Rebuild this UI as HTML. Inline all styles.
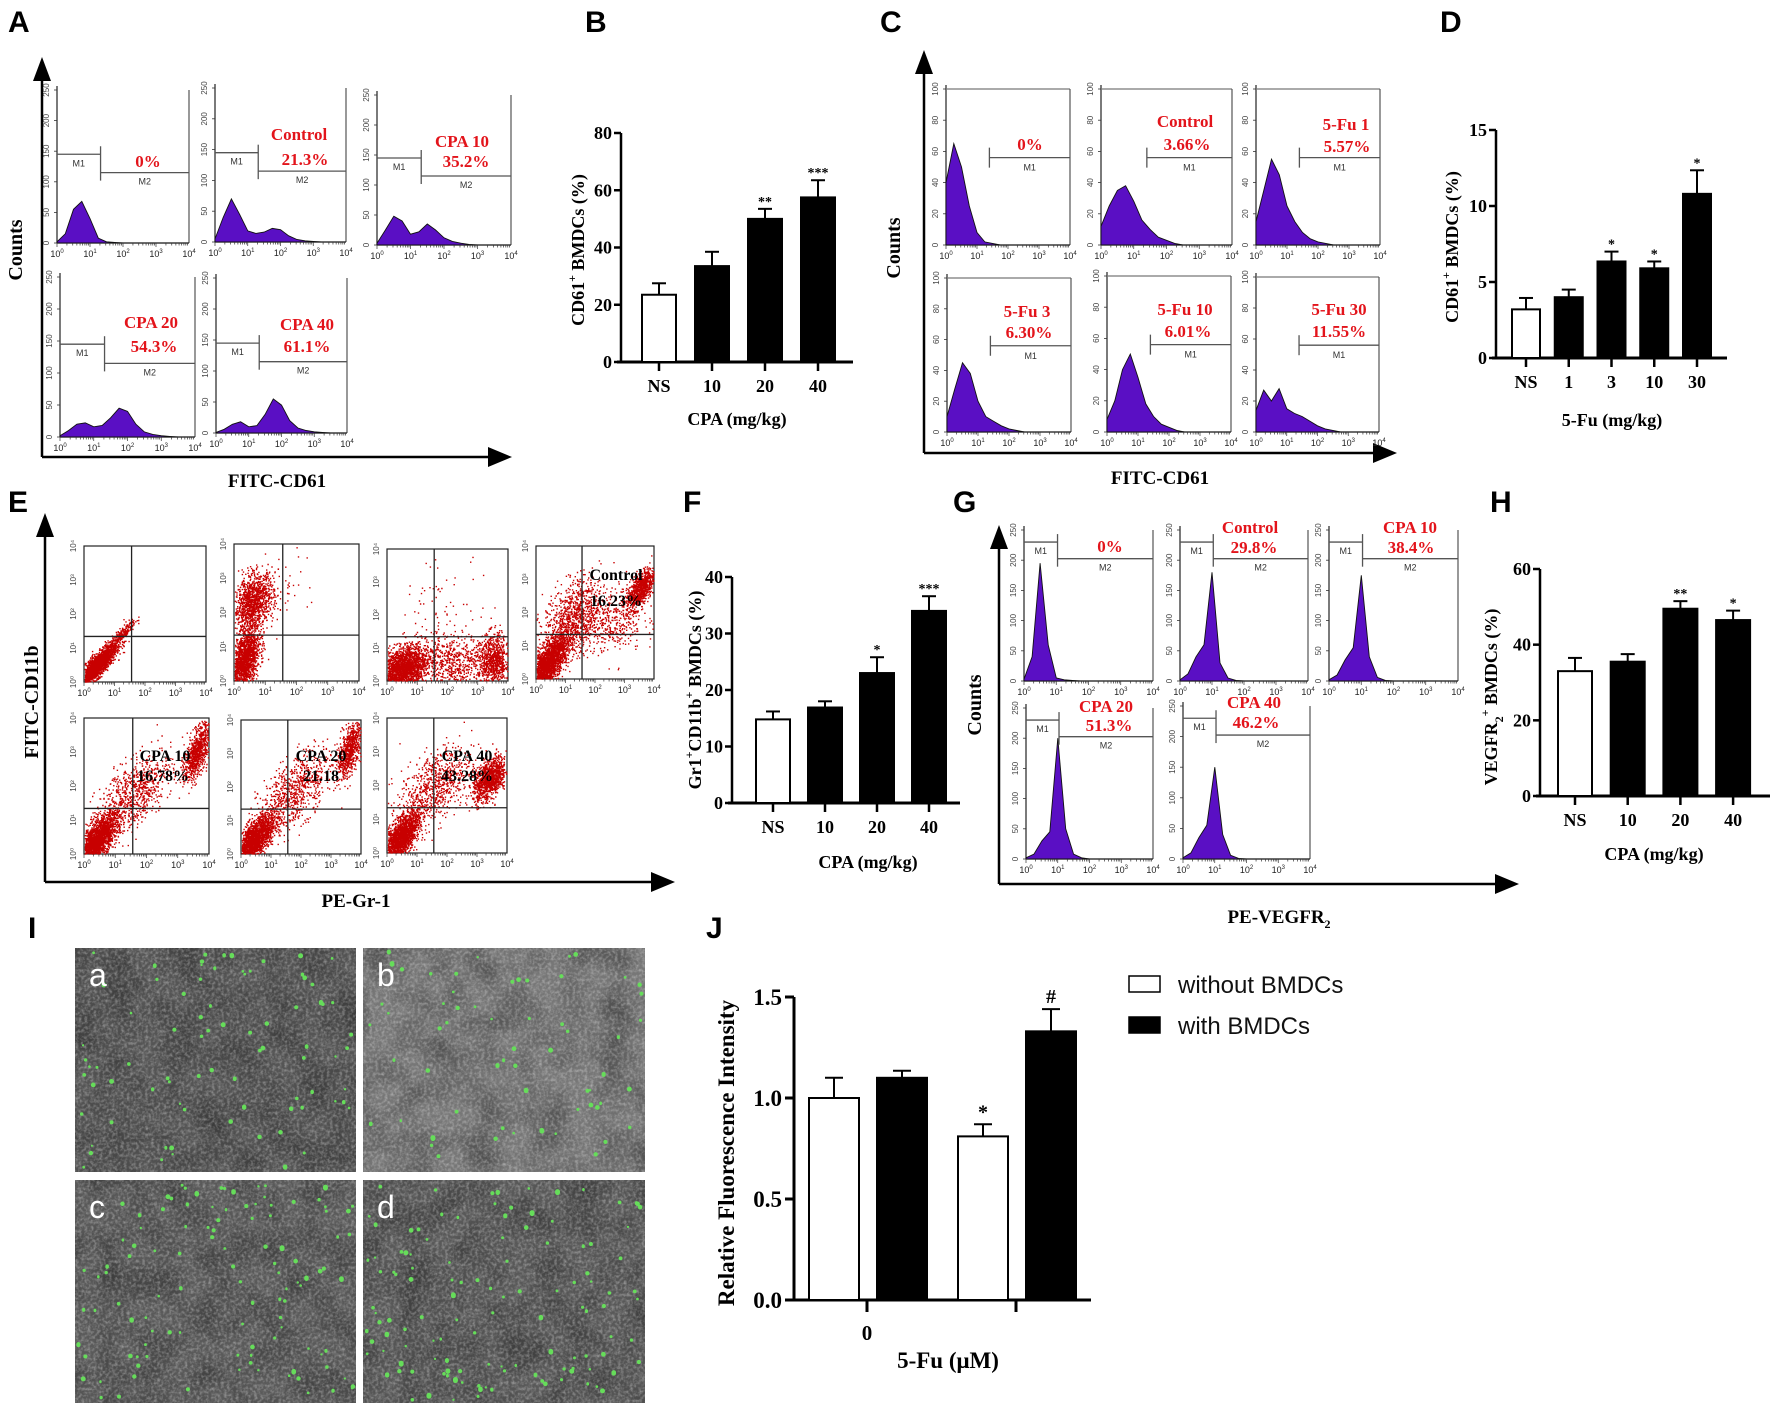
<!DOCTYPE html>
<html><head><meta charset="utf-8"><style>
html,body{margin:0;padding:0;background:#fff;}
svg{display:block;}
.lt{font-family:"Liberation Sans",sans-serif;font-weight:bold;}
.sf{font-family:"Liberation Serif",serif;font-weight:bold;}
</style></head><body>
<svg id="fig" width="1772" height="1407" viewBox="0 0 1772 1407" xmlns="http://www.w3.org/2000/svg">
<defs>
<filter id="cellnoise" x="0" y="0" width="1" height="1">
<feTurbulence type="fractalNoise" baseFrequency="0.33" numOctaves="2" seed="4"/>
<feColorMatrix type="matrix" values="0 0 0 0 1  0 0 0 0 1  0 0 0 0 1  1.8 0 0 0 -0.7"/>
<feComposite in2="SourceGraphic" operator="in"/>
</filter>
<filter id="cellnoise2" x="0" y="0" width="1" height="1">
<feTurbulence type="fractalNoise" baseFrequency="0.03" numOctaves="2" seed="9"/>
<feColorMatrix type="matrix" values="0 0 0 0 0  0 0 0 0 0  0 0 0 0 0  2 0 0 0 -0.7"/>
<feComposite in2="SourceGraphic" operator="in"/>
</filter>
</defs>
</svg>
<script>
// ===== Bar chart data =====
const bCats=["NS","10","20","40"];
const bVals=[23.5,33.5,50,57.5];
const bErr=[4,5,3.5,6];
const bStars=["","","**","***"];
const bTicks=[0,20,40,60,80];

const dCats=["NS","1","3","10","30"];
const dVals=[3.2,4.0,6.35,5.9,10.8];
const dErr=[0.75,0.5,0.65,0.45,1.55];
const dStars=["","","*","*","*"];
const dTicks=[0,5,10,15];

const fCats=["NS","10","20","40"];
const fVals=[14.8,16.9,23,34];
const fErr=[1.4,1.1,2.8,2.6];
const fStars=["","","*","***"];
const fTicks=[0,10,20,30,40];

const hCats=["NS","10","20","40"];
const hVals=[33,35.5,49.5,46.5];
const hErr=[3.5,2,2,2.5];
const hStars=["","","**","*"];
const hTicks=[0,20,40,60];

const jGroups=["0",""];
const jWithout=[1.0,0.81];
const jWithoutErr=[0.1,0.06];
const jWith=[1.1,1.33];
const jWithErr=[0.035,0.11];
const jMarks=[["",""],["*","#"]];
const jTicks=["0.0","0.5","1.0","1.5"];

// ===== Histogram data (counts every 1/4 decade, 10^0..10^4) =====
const histA1=[2,15,55,68,40,8,2,1,0,0,0,0,0,0,0,0,0];
const histA2=[5,40,70,45,18,14,16,22,20,10,4,2,1,0,0,0,0];
const histA3=[3,25,48,40,18,22,35,25,12,6,3,1,0,0,0,0,0];
const histA4=[2,10,20,22,16,18,30,45,40,20,8,4,2,1,0,0,0];
const histA5=[1,6,14,18,10,12,30,55,45,20,8,4,2,1,0,0,0];
const histC1=[40,65,50,25,8,2,1,0,0,0,0,0,0,0,0,0,0];
const histC2=[12,25,35,38,28,16,10,5,3,1,0,0,0,0,0,0,0];
const histC3=[15,35,55,45,25,15,8,4,2,1,0,0,0,0,0,0,0];
const histC4=[10,28,45,38,20,10,7,4,2,1,0,0,0,0,0,0,0];
const histC5=[8,20,40,50,35,18,10,5,3,1,0,0,0,0,0,0,0];
const histC6=[14,27,20,28,15,12,10,7,4,2,1,0,0,0,0,0,0];
const histG1=[3,40,195,60,5,2,1,0,0,0,0,0,0,0,0,0,0];
const histG2=[2,12,40,60,180,30,5,1,0,0,0,0,0,0,0,0,0];
const histG3=[2,10,35,55,175,40,6,1,0,0,0,0,0,0,0,0,0];
const histG4=[2,8,30,45,200,50,8,2,0,0,0,0,0,0,0,0,0];
const histG5=[2,10,35,55,150,40,6,1,0,0,0,0,0,0,0,0,0];

const NS="http://www.w3.org/2000/svg";
const svg=document.getElementById('fig');
function mk(tag,attrs,parent,name,inter){
  const e=document.createElementNS(NS,tag);
  for(const k in attrs) e.setAttribute(k,attrs[k]);
  
  
  (parent||svg).appendChild(e);
  return e;
}
function txt(x,y,s,size,cls,name,anchor,fill,parent,rot){
  const a={x:x,y:y,'font-size':size,class:cls,'text-anchor':anchor||'middle',fill:fill||'#000'};
  if(rot) a.transform='rotate('+rot+' '+x+' '+y+')';
  const t=mk('text',a,parent,name,false);
  t.textContent=s;
  return t;
}
let seed=12345;
function rnd(){seed=(seed*1103515245+12345)%2147483648;return seed/2147483648;}
function gauss(){let u=rnd()||1e-6,v=rnd();return Math.sqrt(-2*Math.log(u))*Math.cos(2*Math.PI*v);}

[["A",8,32],["B",585,32],["C",880,32],["D",1440,32],["E",8,512],["F",683,512],["G",953,512],["H",1490,512],["I",28,938],["J",706,938]].forEach(p=>{
  txt(p[1],p[2],p[0],30,'lt','panel-label-'+p[0].toLowerCase(),'start');
});

function arrowAxes(x,yTop,y,xRight,pfx){
  mk('line',{x1:x,y1:y,x2:x,y2:yTop+20,stroke:'#000','stroke-width':2.5},null,pfx+'-y-arrow-line',false);
  mk('polygon',{points:(x-9)+','+(yTop+24)+' '+(x+9)+','+(yTop+24)+' '+x+','+yTop,fill:'#000'},null,pfx+'-y-arrowhead',false);
  mk('line',{x1:x,y1:y,x2:xRight-20,y2:y,stroke:'#000','stroke-width':2.5},null,pfx+'-x-arrow-line',false);
  mk('polygon',{points:(xRight-24)+','+(y-10)+' '+(xRight-24)+','+(y+10)+' '+xRight+','+y,fill:'#000'},null,pfx+'-x-arrowhead',false);
}

function logTicks(g,x0,x1,base,name){
  const W=x1-x0;
  for(let d=0;d<4;d++){for(let m=1;m<10;m++){
    const xx=x0+(d+Math.log10(m))/4*W;
    mk('line',{x1:xx,y1:base,x2:xx,y2:base+(m==1?4:2.5),stroke:'#333','stroke-width':0.7},g,name+'-tick',false);
  }}
  for(let d=0;d<=4;d++){
    const t=txt(x0+d/4*W,base+14,'10',9,'','x-tick-label','middle','#222',g);
    t.setAttribute('font-family','Liberation Sans, sans-serif');
    const s=document.createElementNS(NS,'tspan');s.setAttribute('dy','-4');s.setAttribute('font-size','6');s.textContent=d;t.appendChild(s);
  }
}

function hist(x0,y0,x1,base,data,ymax,ticks,opts,name){
  const g=mk('g',{},null,name,false);
  const W=x1-x0,H=base-y0;
  mk('line',{x1:x0,y1:y0-4,x2:x0,y2:base,stroke:'#222','stroke-width':1.2},g,name+'-y-axis',false);
  mk('line',{x1:x0,y1:base,x2:x1,y2:base,stroke:'#222','stroke-width':1.2},g,name+'-x-axis',false);
  if(opts.box){mk('line',{x1:x0,y1:y0,x2:x1,y2:y0,stroke:'#777','stroke-width':1.2},g,name+'-top-border',false);}
  mk('line',{x1:x1,y1:y0,x2:x1,y2:base,stroke:'#555','stroke-width':1.2},g,name+'-right-border',false);
  ticks.forEach(v=>{
    const yy=base-v/ymax*H;
    mk('line',{x1:x0-3,y1:yy,x2:x0,y2:yy,stroke:'#333','stroke-width':0.8},g,name+'-y-tick',false);
    const t=txt(x0-8,yy,String(v),8,'','y-tick-label','middle','#444',g,-90);
    t.setAttribute('font-family','Liberation Sans, sans-serif');
  });
  let d='M'+x0+','+base;
  data.forEach((v,i)=>{const xx=x0+i/(data.length-1)*W;const yy=base-v/ymax*H;d+=' L'+xx.toFixed(1)+','+yy.toFixed(1);});
  d+=' L'+x1+','+base+' Z';
  mk('path',{d:d,fill:'#5a0fc4',stroke:'#111','stroke-width':0.9},g,name+'-histogram',false);
  logTicks(g,x0,x1,base,name);
  const gt=opts.gate;
  if(gt.type==='AB'){
    const gx=x0+gt.fx*W,y1=y0+gt.f1*H,y2=y0+gt.f2*H;
    mk('line',{x1:x0,y1:y1,x2:gx,y2:y1,stroke:'#555','stroke-width':1.3},g,name+'-gate-m1',false);
    mk('line',{x1:gx,y1:y2,x2:x1,y2:y2,stroke:'#555','stroke-width':1.3},g,name+'-gate-m2',false);
    mk('line',{x1:gx,y1:y1-8,x2:gx,y2:y2+8,stroke:'#555','stroke-width':1.3},g,name+'-gate-divider',false);
    const a=txt((x0+gx)/2,y1+12,'M1',9,'','gate-label-m1','middle','#333',g);a.setAttribute('font-family','Liberation Sans, sans-serif');
    const b=txt((gx+x1)/2,y2+12,'M2',9,'','gate-label-m2','middle','#333',g);b.setAttribute('font-family','Liberation Sans, sans-serif');
  } else {
    const gx=x0+gt.fx*W,y1=y0+gt.f1*H;
    mk('line',{x1:gx,y1:y1,x2:x1,y2:y1,stroke:'#555','stroke-width':1.3},g,name+'-gate-m1',false);
    mk('line',{x1:gx,y1:y1-10,x2:gx,y2:y1+10,stroke:'#555','stroke-width':1.3},g,name+'-gate-divider',false);
    const a=txt((gx+x1)/2,y1+13,'M1',9,'','gate-label-m1','middle','#333',g);a.setAttribute('font-family','Liberation Sans, sans-serif');
  }
  (opts.labels||[]).forEach((l,i)=>{txt(l[1],l[2],l[0],17,'sf',name+'-label-'+i,'middle',opts.color||'#e3141b',g);});
}

// ===== Panel A =====
arrowAxes(42,57,457,512,'panel-a');
txt(22,250,'Counts',20,'sf','panel-a-y-title','middle','#000',null,-90);
txt(277,487,'FITC-CD61',19,'sf','panel-a-x-title');
const gAB={type:'AB',fx:0.33,f1:0.42,f2:0.54};
hist(57,90,189,243,histA1,250,[0,50,100,150,200,250],{gate:gAB,labels:[["0%",148,167]]},'hist-a-ns');
hist(215,88,346,242,histA2,250,[0,50,100,150,200,250],{gate:gAB,labels:[["Control",299,140],["21.3%",305,165]]},'hist-a-control');
hist(377,95,511,245,histA3,250,[0,50,100,150,200,250],{gate:{type:'AB',fx:0.33,f1:0.42,f2:0.54},labels:[["CPA 10",462,147],["35.2%",466,167]]},'hist-a-cpa10');
hist(60,277,195,437,histA4,250,[0,50,100,150,200,250],{gate:gAB,labels:[["CPA 20",151,328],["54.3%",154,352]]},'hist-a-cpa20');
hist(216,278,347,433,histA5,250,[0,50,100,150,200,250],{gate:gAB,labels:[["CPA 40",307,330],["61.1%",307,352]]},'hist-a-cpa40');

// ===== Panel C =====
arrowAxes(924,50,453,1397,'panel-c');
txt(900,248,'Counts',20,'sf','panel-c-y-title','middle','#000',null,-90);
txt(1160,484,'FITC-CD61',19,'sf','panel-c-x-title');
const gC={type:'C',fx:0.35,f1:0.44};
hist(946,89,1070,245,histC1,100,[0,20,40,60,80,100],{box:1,gate:gC,labels:[["0%",1030,150]]},'hist-c-ns');
hist(1101,89,1232,245,histC2,100,[0,20,40,60,80,100],{box:1,gate:gC,labels:[["Control",1185,127],["3.66%",1187,150]]},'hist-c-control');
hist(1256,89,1380,245,histC3,100,[0,20,40,60,80,100],{box:1,gate:gC,labels:[["5-Fu 1",1346,130],["5.57%",1347,152]]},'hist-c-5fu1');
hist(947,278,1071,432,histC4,100,[0,20,40,60,80,100],{box:1,gate:gC,labels:[["5-Fu 3",1027,317],["6.30%",1029,338]]},'hist-c-5fu3');
hist(1107,276,1231,432,histC5,100,[0,20,40,60,80,100],{box:1,gate:gC,labels:[["5-Fu 10",1185,315],["6.01%",1188,337]]},'hist-c-5fu10');
hist(1256,277,1379,432,histC6,100,[0,20,40,60,80,100],{box:1,gate:gC,labels:[["5-Fu 30",1339,315],["11.55%",1339,337]]},'hist-c-5fu30');

// ===== Panel G =====
arrowAxes(999,525,884,1519,'panel-g');
txt(981,705,'Counts',20,'sf','panel-g-y-title','middle','#000',null,-90);
const gxt=txt(1279,923,'PE-VEGFR',19,'sf','panel-g-x-title');
{const s=document.createElementNS(NS,'tspan');s.setAttribute('font-size','12');s.setAttribute('dy','5');s.textContent='2';gxt.appendChild(s);}
const gG={type:'AB',fx:0.26,f1:0.08,f2:0.19};
hist(1024,530,1153,681,histG1,250,[0,50,100,150,200,250],{gate:gG,labels:[["0%",1110,552]]},'hist-g-ns');
hist(1180,530,1308,681,histG2,250,[0,50,100,150,200,250],{gate:gG,labels:[["Control",1250,533],["29.8%",1254,553]]},'hist-g-control');
hist(1329,530,1458,681,histG3,250,[0,50,100,150,200,250],{gate:gG,labels:[["CPA 10",1410,533],["38.4%",1411,553]]},'hist-g-cpa10');
hist(1026,708,1153,859,histG4,250,[0,50,100,150,200,250],{gate:gG,labels:[["CPA 20",1106,712],["51.3%",1109,731]]},'hist-g-cpa20');
hist(1183,706,1310,859,histG5,250,[0,50,100,150,200,250],{gate:gG,labels:[["CPA 40",1254,708],["46.2%",1256,728]]},'hist-g-cpa40');

// ===== Panel E (scatter) =====
arrowAxes(45,513,882,675,'panel-e');
txt(38,702,'FITC-CD11b',20,'sf','panel-e-y-title','middle','#000',null,-90);
txt(356,907,'PE-Gr-1',19,'sf','panel-e-x-title');
const clusters=[
 [[0.1,0.12,0.08,0.08,0.85,2200],[0.3,0.35,0.06,0.06,0.9,200]],
 [[0.08,0.15,0.06,0.12,0.5,1700],[0.15,0.58,0.08,0.1,0.3,1200],[0.35,0.7,0.12,0.12,0,40]],
 [[0.12,0.1,0.1,0.08,0.3,2000],[0.5,0.15,0.18,0.1,0,700],[0.88,0.15,0.06,0.1,0,800],[0.5,0.55,0.2,0.2,0,80]],
 [[0.1,0.12,0.08,0.1,0.7,2100],[0.3,0.45,0.12,0.15,0.4,900],[0.88,0.68,0.06,0.08,0.6,800],[0.6,0.45,0.15,0.12,0,450]],
 [[0.1,0.1,0.08,0.1,0.7,2100],[0.4,0.45,0.15,0.15,0.6,750],[0.9,0.75,0.05,0.1,0.6,800]],
 [[0.1,0.1,0.09,0.1,0.7,2100],[0.45,0.48,0.15,0.15,0.6,750],[0.9,0.78,0.05,0.1,0.6,700]],
 [[0.1,0.1,0.08,0.1,0.7,2000],[0.4,0.5,0.15,0.15,0.5,750],[0.85,0.55,0.07,0.08,0.5,1100]]
];
const sPlots=[[84,546,206,682],[234,544,359,681],[387,549,508,681],[536,546,654,679],[84,718,209,854],[241,720,361,854],[387,718,507,853]];
const sNames=['scatter-e-1','scatter-e-2','scatter-e-3','scatter-e-control','scatter-e-cpa10','scatter-e-cpa20','scatter-e-cpa40'];
sPlots.forEach((p,k)=>{
  const g=mk('g',{},null,sNames[k],false);
  const [x0,y0,x1,y1]=p;const W=x1-x0,H=y1-y0;
  mk('rect',{x:x0,y:y0,width:W,height:H,fill:'#fff',stroke:'#222','stroke-width':1.2},g,sNames[k]+'-frame',false);
  let d='';
  clusters[k].forEach(c=>{
    for(let i=0;i<c[5];i++){
      const a=gauss(),b=gauss();
      let u=c[0]+c[2]*a, v=c[1]+c[3]*(c[4]*a+Math.sqrt(1-c[4]*c[4])*b);
      if(u<0.005||u>0.995||v<0.005||v>0.995) continue;
      d+='M'+(x0+u*W).toFixed(1)+','+(y1-v*H).toFixed(1)+'h1.4v1.4h-1.4z';
    }
  });
  mk('path',{d:d,fill:'#c80000'},g,sNames[k]+'-events',false);
  const qx=x0+0.39*W,qy=y0+0.665*H;
  mk('line',{x1:qx,y1:y0,x2:qx,y2:y1,stroke:'#222','stroke-width':1.3},g,sNames[k]+'-quadrant-v',false);
  mk('line',{x1:x0,y1:qy,x2:x1,y2:qy,stroke:'#222','stroke-width':1.3},g,sNames[k]+'-quadrant-h',false);
  logTicks(g,x0,x1,y1,sNames[k]);
  for(let dd=0;dd<=4;dd++){
    const t=txt(x0-8,y1-dd/4*H,'10'+['⁰','¹','²','³','⁴'][dd],8,'','y-tick-label','middle','#444',g,-90);
    t.setAttribute('font-family','Liberation Sans, sans-serif');
  }
});
[["Control",616,580],["16.23%",616,606],["CPA 10",165,761],["16.78%",163,781],["CPA 20",321,761],["21.18",321,781],["CPA 40",467,761],["43.28%",467,781]].forEach((l,i)=>{
  txt(l[1],l[2],l[0],16,'sf','scatter-label-'+i);
});

// ===== Bar charts =====
function barChart(o){
  const g=mk('g',{},null,o.name,false);
  const ys=v=>o.y0-(v/o.ymax)*(o.y0-o.yTop);
  const xs=i=>o.c0+i*o.step;
  mk('line',{x1:o.ax,y1:o.y0+1,x2:o.ax,y2:o.yTop,stroke:'#000','stroke-width':2.5},g,o.name+'-y-axis',false);
  mk('line',{x1:o.ax-4,y1:o.y0,x2:o.xEnd,y2:o.y0,stroke:'#000','stroke-width':3},g,o.name+'-x-axis',false);
  o.ticks.forEach(t=>{
    mk('line',{x1:o.ax-7,y1:ys(t),x2:o.ax,y2:ys(t),stroke:'#000','stroke-width':2.5},g,o.name+'-y-tick',false);
    txt(o.ax-9,ys(t)+6,String(t),o.fs,'sf',o.name+'-y-tick-label','end','#000',g);
  });
  o.cats.forEach((c,i)=>{
    const x=xs(i),top=ys(o.vals[i]),et=ys(o.vals[i]+o.err[i]);
    mk('line',{x1:x,y1:top,x2:x,y2:et,stroke:'#000','stroke-width':2},g,o.name+'-error-bar',false);
    mk('line',{x1:x-7,y1:et,x2:x+7,y2:et,stroke:'#000','stroke-width':2},g,o.name+'-error-cap',false);
    mk('rect',{x:x-o.bw/2,y:top,width:o.bw,height:o.y0-top,fill:i==0?'#fff':'#000',stroke:'#000','stroke-width':2},g,o.name+'-bar-'+c.toLowerCase(),false);
    if(o.stars[i]) txt(x,et-3,o.stars[i],14,'sf',o.name+'-significance','middle','#000',g);
    mk('line',{x1:x,y1:o.y0,x2:x,y2:o.y0+9,stroke:'#000','stroke-width':2.5},g,o.name+'-x-tick',false);
    txt(x,o.y0+30,c,o.fs,'sf',o.name+'-x-tick-label','middle','#000',g);
  });
  txt(o.tx,o.ty,o.xtitle,o.fs,'sf',o.name+'-x-title','middle','#000',g);
  const yt=txt(o.ytx,o.yty,'',o.fs,'sf',o.name+'-y-title','middle','#000',g,-90);
  o.ytitle.forEach(p=>{const s=document.createElementNS(NS,'tspan');s.textContent=p[0];if(p[1]){s.setAttribute('dy',p[1]);s.setAttribute('font-size',p[2]);}yt.appendChild(s);});
}
barChart({name:'chart-b',ax:621,y0:362,yTop:133,ymax:80,ticks:bTicks,cats:bCats,vals:bVals,err:bErr,stars:bStars,c0:659,step:53,bw:34,xEnd:853,fs:18,tx:737,ty:425,xtitle:'CPA (mg/kg)',ytx:584,yty:250,ytitle:[['CD61'],['+','-8','12'],[' BMDCs (%)','8','18']]});
barChart({name:'chart-d',ax:1496,y0:358,yTop:130,ymax:15,ticks:dTicks,cats:dCats,vals:dVals,err:dErr,stars:dStars,c0:1526,step:42.75,bw:28,xEnd:1727,fs:18,tx:1612,ty:426,xtitle:'5-Fu (mg/kg)',ytx:1458,yty:247,ytitle:[['CD61'],['+','-8','12'],[' BMDCs (%)','8','18']]});
barChart({name:'chart-f',ax:732,y0:803,yTop:577,ymax:40,ticks:fTicks,cats:fCats,vals:fVals,err:fErr,stars:fStars,c0:773,step:52,bw:34,xEnd:960,fs:18,tx:868,ty:868,xtitle:'CPA (mg/kg)',ytx:701,yty:690,ytitle:[['Gr1'],['+','-8','12'],['CD11b','8','18'],['+','-8','12'],[' BMDCs (%)','8','18']]});
barChart({name:'chart-h',ax:1540,y0:796,yTop:569,ymax:60,ticks:hTicks,cats:hCats,vals:hVals,err:hErr,stars:hStars,c0:1575,step:52.7,bw:34,xEnd:1770,fs:18,tx:1654,ty:860,xtitle:'CPA (mg/kg)',ytx:1497,yty:697,ytitle:[['VEGFR'],['2','6','12'],['+','-14','12'],[' BMDCs (%)','8','18']]});

// ===== Panel J =====
(function(){
  const g=mk('g',{},null,'chart-j',false);
  const ax=794,y0=1300,yTop=997,ymax=1.5;
  const ys=v=>y0-v/ymax*(y0-yTop);
  const gc=i=>867+i*149;
  mk('line',{x1:ax,y1:y0+1,x2:ax,y2:yTop,stroke:'#000','stroke-width':3},g,'chart-j-y-axis',false);
  mk('line',{x1:ax-5,y1:y0,x2:1091,y2:y0,stroke:'#000','stroke-width':3},g,'chart-j-x-axis',false);
  jTicks.forEach(t=>{
    const v=parseFloat(t);
    mk('line',{x1:ax-9,y1:ys(v),x2:ax,y2:ys(v),stroke:'#000','stroke-width':3},g,'chart-j-y-tick',false);
    txt(ax-12,ys(v)+8,t,23,'sf','chart-j-y-tick-label','end','#000',g);
  });
  jGroups.forEach((c,i)=>{
    const series=[[jWithout,jWithoutErr,'#fff','without'],[jWith,jWithErr,'#000','with']];
    series.forEach((s,j)=>{
      const x=gc(i)+(j==0?-33:35),top=ys(s[0][i]),et=ys(s[0][i]+s[1][i]);
      mk('line',{x1:x,y1:top,x2:x,y2:et,stroke:'#000','stroke-width':2},g,'chart-j-error-bar',false);
      mk('line',{x1:x-9,y1:et,x2:x+9,y2:et,stroke:'#000','stroke-width':2},g,'chart-j-error-cap',false);
      mk('rect',{x:x-25,y:top,width:50,height:y0-top,fill:s[2],stroke:'#000','stroke-width':2},g,'chart-j-bar-'+s[3]+'-'+i,false);
      if(jMarks[i][j]) txt(x,et-6,jMarks[i][j],20,'sf','chart-j-significance','middle','#000',g);
    });
    mk('line',{x1:gc(i),y1:y0,x2:gc(i),y2:y0+12,stroke:'#000','stroke-width':3},g,'chart-j-x-tick',false);
    if(c) txt(gc(i),y0+40,c,21,'sf','chart-j-x-tick-label','middle','#000',g);
  });
  txt(948,1368,'5-Fu (μM)',23,'sf','chart-j-x-title','middle','#000',g);
  txt(734,1153,'Relative Fluorescence Intensity',23,'sf','chart-j-y-title','middle','#000',g,-90);
  const lg=mk('g',{},null,'chart-j-legend',false);
  mk('rect',{x:1129,y:976,width:31,height:16,fill:'#fff',stroke:'#000','stroke-width':1.5},lg,'legend-swatch-without-bmdcs',false);
  const l1=txt(1178,993,'without BMDCs',24,'','legend-entry-without-bmdcs','start','#111',lg);l1.setAttribute('font-family','Liberation Sans, sans-serif');
  mk('rect',{x:1129,y:1017,width:31,height:16,fill:'#000',stroke:'#000','stroke-width':1.5},lg,'legend-swatch-with-bmdcs',false);
  const l2=txt(1178,1034,'with BMDCs',24,'','legend-entry-with-bmdcs','start','#111',lg);l2.setAttribute('font-family','Liberation Sans, sans-serif');
})();

// ===== Panel I (micrographs) =====
const cellImgs=[[75,948,281,224,'#555555','a',80],[363,948,282,224,'#777777','b',60],[75,1180,281,223,'#5a5a5a','c',110],[363,1180,282,223,'#595959','d',120]];
cellImgs.forEach((c,k)=>{
  const g=mk('g',{},null,'micrograph-'+c[5],false);
  mk('rect',{x:c[0],y:c[1],width:c[2],height:c[3],fill:c[4]},g,'micrograph-'+c[5]+'-background',false);
  mk('rect',{x:c[0],y:c[1],width:c[2],height:c[3],fill:'#000',filter:'url(#cellnoise2)',opacity:0.3},g,'micrograph-'+c[5]+'-shading',false);
  mk('rect',{x:c[0],y:c[1],width:c[2],height:c[3],fill:'#fff',filter:'url(#cellnoise)',opacity:0.4},g,'micrograph-'+c[5]+'-cells',false);
  let d='';
  for(let i=0;i<c[6];i++){
    const x=c[0]+3+rnd()*(c[2]-6),y=c[1]+3+rnd()*(c[3]-6),r=1.1+rnd()*1.4;
    d+='M'+(x-r).toFixed(1)+','+y.toFixed(1)+'a'+r.toFixed(1)+','+r.toFixed(1)+' 0 1,0 '+(2*r).toFixed(1)+',0a'+r.toFixed(1)+','+r.toFixed(1)+' 0 1,0 '+(-2*r).toFixed(1)+',0z';
  }
  mk('path',{d:d,fill:'#66dd5a'},g,'micrograph-'+c[5]+'-green-cells',false);
  const t=txt(c[0]+14,c[1]+38,c[5],32,'','micrograph-'+c[5]+'-label','start','#fff',g);
  t.setAttribute('font-family','Liberation Sans, sans-serif');
});
</script>
</body></html>
